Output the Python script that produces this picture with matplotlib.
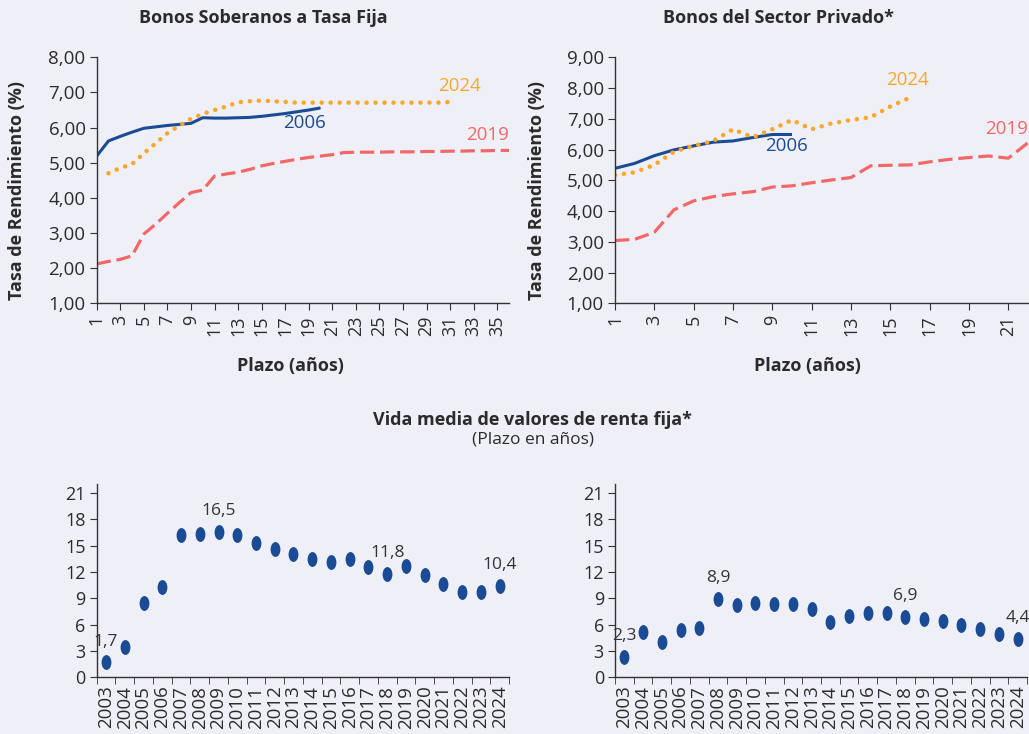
import numpy as np
import matplotlib
matplotlib.use("Agg")
import matplotlib.pyplot as plt
from matplotlib.path import Path
from matplotlib.transforms import Affine2D

plt.rcParams['font.family'] = ['Open Sans', 'DejaVu Sans']

# --- data -----------------------------------------------------------------
sob_x_2006 = list(range(1, 21))
sob_2006 = [5.19, 5.62, 5.75, 5.87, 5.98, 6.02, 6.06, 6.09, 6.12, 6.28,
            6.27, 6.27, 6.28, 6.29, 6.32, 6.36, 6.40, 6.45, 6.50, 6.56]
sob_x_2024 = list(range(2, 32))
sob_2024 = [4.70, 4.85, 4.96, 5.27, 5.55, 5.84, 6.05, 6.25, 6.39, 6.50,
            6.60, 6.72, 6.75, 6.77, 6.75, 6.73, 6.71, 6.71, 6.71, 6.71,
            6.71, 6.71, 6.71, 6.71, 6.71, 6.71, 6.71, 6.71, 6.71, 6.73]
sob_x_2019 = list(range(1, 37))
sob_2019 = [2.12, 2.19, 2.25, 2.35, 2.97, 3.25, 3.56, 3.86, 4.15, 4.22,
            4.62, 4.68, 4.73, 4.81, 4.91, 4.98, 5.04, 5.10, 5.15, 5.19,
            5.23, 5.29, 5.30, 5.30, 5.30, 5.31, 5.31, 5.31, 5.32, 5.32,
            5.33, 5.33, 5.34, 5.34, 5.35, 5.35]

pri_x_2006 = list(range(1, 11))
pri_2006 = [5.39, 5.55, 5.80, 5.99, 6.12, 6.24, 6.28, 6.39, 6.49, 6.49]
pri_x_2024 = list(range(1, 17))
pri_2024 = [5.17, 5.26, 5.50, 5.93, 6.12, 6.28, 6.66, 6.40, 6.66, 6.96,
            6.66, 6.85, 6.96, 7.05, 7.40, 7.69]
pri_x_2019 = list(range(1, 23))
pri_2019 = [3.04, 3.08, 3.31, 4.04, 4.33, 4.47, 4.56, 4.63, 4.78, 4.82,
            4.92, 5.01, 5.09, 5.47, 5.49, 5.50, 5.60, 5.68, 5.74, 5.79,
            5.72, 6.22]

years = [str(y) for y in range(2003, 2025)]
vida_sob = [1.7, 3.45, 8.49, 10.24, 16.19, 16.34, 16.5, 16.19, 15.24, 14.6,
            14.03, 13.42, 13.15, 13.5, 12.58, 11.8, 12.66, 11.64, 10.58, 9.67,
            9.67, 10.4]
vida_pri = [2.3, 5.19, 4.06, 5.38, 5.57, 8.9, 8.23, 8.42, 8.30, 8.30,
            7.73, 6.25, 6.97, 7.28, 7.35, 6.9, 6.6, 6.41, 5.95, 5.50,
            4.93, 4.4]
lab_sob = {"2003": "1,7", "2009": "16,5", "2018": "11,8", "2024": "10,4"}
lab_pri = {"2003": "2,3", "2008": "8,9", "2018": "6,9", "2024": "4,4"}

# --- style ----------------------------------------------------------------
BG = "#eff0f7"
BLUE = "#1a4b94"
ORANGE = "#fba62c"
RED = "#f26868"
TXT = "#2b2b2b"

W, H = 1029, 734
fig = plt.figure(figsize=(W / 100, H / 100), dpi=100, facecolor=BG)


def px_axes(x0, y0, x1, y1):
    # pixel box (top-left origin) -> axes
    ax = fig.add_axes([x0 / W, 1 - y1 / H, (x1 - x0) / W, (y1 - y0) / H])
    ax.set_facecolor(BG)
    for s in ["top", "right"]:
        ax.spines[s].set_visible(False)
    for s in ["left", "bottom"]:
        ax.spines[s].set_color("#333333")
        ax.spines[s].set_linewidth(1.0)
    ax.tick_params(colors="#333333", labelcolor=TXT, direction="out")
    return ax


def ftext(x, y, s, **kw):
    fig.text(x / W, 1 - y / H, s, color=TXT, ha="center", va="center", **kw)


def comma(v, nd):
    return f"{v:.{nd}f}".replace(".", ",")


def yield_panel(ax, xmax, ymax, data, labels):
    (x6, y6), (x24, y24), (x19, y19) = data
    ax.plot(x6, y6, color=BLUE, lw=2.2, solid_capstyle="butt")
    ax.plot(x24, y24, color=ORANGE, lw=3.3, linestyle=(0, (0.01, 1.95)),
            dash_capstyle="round")
    ax.plot(x19, y19, color=RED, lw=2.3, linestyle=(0, (4.5, 1.8)))
    ax.set_xlim(1, xmax)
    ax.set_ylim(1, ymax)
    ax.set_xticks(range(1, int(xmax) + 1, 2))
    ax.tick_params(axis="x", labelrotation=90, labelsize=13, length=5)
    yt = range(1, ymax + 1)
    ax.set_yticks(yt)
    ax.set_yticklabels([comma(v, 2) for v in yt])
    ax.tick_params(axis="y", labelsize=13.5, length=5, pad=3)
    for (lx, ly, s, c) in labels:
        ax.text(lx, ly, s, color=c, fontsize=13.5, ha="center", va="center")


ax1 = px_axes(96.7, 57.3, 509, 303.3)
yield_panel(ax1, 36, 8,
            [(sob_x_2006, sob_2006), (sob_x_2024, sob_2024), (sob_x_2019, sob_2019)],
            [(18.6, 6.12, "2006", BLUE), (31.8, 7.18, "2024", ORANGE),
             (34.2, 5.79, "2019", RED)])

ax2 = px_axes(615, 57.3, 1028, 303.3)
yield_panel(ax2, 22, 9,
            [(pri_x_2006, pri_2006), (pri_x_2024, pri_2024), (pri_x_2019, pri_2019)],
            [(9.74, 6.12, "2006", BLUE), (15.85, 8.26, "2024", ORANGE),
             (20.9, 6.67, "2019", RED)])

# vertical ellipse marker
ellipse = Path.unit_circle().transformed(Affine2D().scale(0.66, 1.0))


def vida_panel(ax, vals, labs):
    pos = np.arange(len(years))
    ax.scatter(pos, vals, marker=ellipse, s=115, color=BLUE, zorder=3,
               linewidths=0)
    ax.set_xlim(-0.5, len(years) - 0.5)
    ax.set_ylim(0, 22)
    ax.set_yticks(range(0, 22, 3))
    ax.tick_params(axis="y", labelsize=13, length=5, pad=3)
    ax.set_xticks(pos)
    ax.set_xticklabels(years, rotation=90, fontsize=13.5)
    ax.set_xticks(np.arange(-0.5, len(years), 1.0), minor=True)
    ax.tick_params(axis="x", which="major", length=0, pad=6)
    ax.tick_params(axis="x", which="minor", length=5, color="#333333")
    for yr, s in labs.items():
        i = years.index(yr)
        ax.annotate(s, (pos[i], vals[i]), xytext=(0, 15),
                    textcoords="offset points", ha="center", va="center",
                    fontsize=12.5, color="#333333")


ax3 = px_axes(96.7, 484, 509, 677.3)
vida_panel(ax3, vida_sob, lab_sob)
ax4 = px_axes(615, 484, 1027, 677.3)
vida_panel(ax4, vida_pri, lab_pri)

# --- titles and axis labels ----------------------------------------------
ftext(263, 18, "Bonos Soberanos a Tasa Fija", fontsize=13, fontweight="bold")
ftext(778, 18, "Bonos del Sector Privado*", fontsize=13, fontweight="bold")
ftext(290, 366, "Plazo (años)", fontsize=13, fontweight="bold")
ftext(807, 366, "Plazo (años)", fontsize=13, fontweight="bold")
ftext(17, 190, "Tasa de Rendimiento (%)", fontsize=13, fontweight="bold",
      rotation=90)
ftext(537, 190, "Tasa de Rendimiento (%)", fontsize=13, fontweight="bold",
      rotation=90)
ftext(532, 420, "Vida media de valores de renta fija*", fontsize=13,
      fontweight="bold")
ftext(533, 440, "(Plazo en años)", fontsize=12.5)

fig.savefig("out.png", dpi=100, facecolor=BG)
